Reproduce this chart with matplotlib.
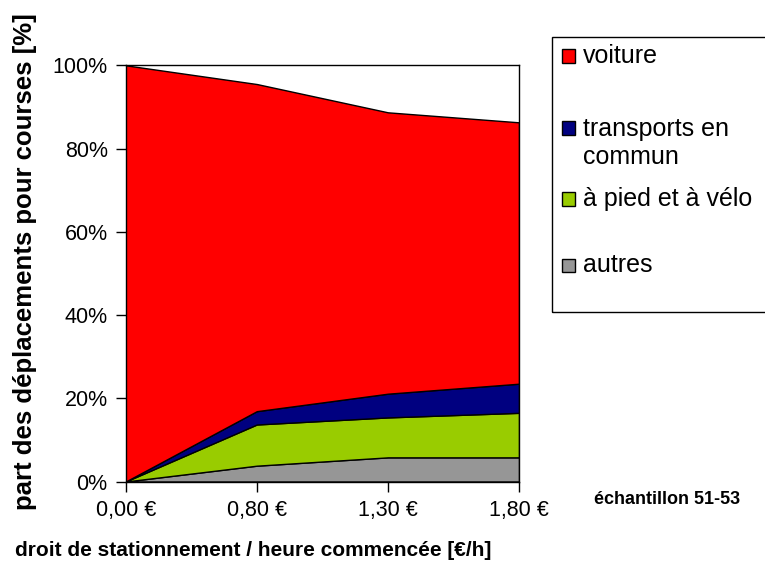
import matplotlib.pyplot as plt
from matplotlib.patches import Rectangle

plt.rcParams['font.family'] = ['Liberation Sans', 'DejaVu Sans']

# parking fee per started hour
categories = ['0,00 €', '0,80 €', '1,30 €', '1,80 €']
# share of shopping trips [%] per mode (stacked bottom to top)
autres = [0.0, 3.8, 5.8, 5.8]
pied_velo = [0.0, 9.9, 9.6, 10.7]
transports = [0.0, 3.2, 5.7, 7.0]
voiture = [100.0, 78.6, 67.6, 62.8]

series_labels = ['autres', 'à pied et à vélo', 'transports en\ncommun', 'voiture']
series_colors = ['#969696', '#99CC00', '#000080', '#FF0000']
yticks = [0, 20, 40, 60, 80, 100]

W, H = 765, 567
fig = plt.figure(figsize=(W / 100, H / 100), dpi=100)
ax = fig.add_axes([125.7 / W, 1 - 481.5 / H, (519 - 125.7) / W, (481.5 - 65.3) / H])

x = list(range(len(categories)))
ax.stackplot(x, autres, pied_velo, transports, voiture, colors=series_colors,
             edgecolor='black', linewidth=1)

ax.set_xlim(x[0], x[-1])
ax.set_ylim(0, 100)
ax.set_xticks(x)
ax.set_xticklabels(categories)
ax.set_yticks(yticks)
ax.set_yticklabels(['%d%%' % v for v in yticks])
ax.tick_params(axis='both', labelsize=15.5, direction='out', length=7, width=1, pad=6)
for sp in ax.spines.values():
    sp.set_linewidth(1)

ax.set_xlabel('droit de stationnement / heure commencée [€/h]', fontsize=15,
              fontweight='bold')
ax.xaxis.set_label_coords(15 / W, 1 - 550 / H, transform=fig.transFigure)
ax.xaxis.label.set_ha('left')
ax.xaxis.label.set_va('center')
ax.set_ylabel('part des déplacements pour courses [%]', fontsize=18.5, fontweight='bold')
ax.yaxis.set_label_coords(25 / W, 1 - 262 / H, transform=fig.transFigure)
ax.yaxis.label.set_va('center')

fig.text(667 / W, 1 - 500 / H, 'échantillon 51-53', fontsize=13, fontweight='bold',
         ha='center', va='center')

# legend box, cut off by the right edge of the figure
fig.add_artist(Rectangle((552 / W, 1 - 312 / H), 0.5, (312 - 37) / H,
                         transform=fig.transFigure, fill=False, lw=1, ec='black'))
legend_y = [56, 128, 199, 265]
legend_order = [3, 2, 1, 0]
for yy, i in zip(legend_y, legend_order):
    fig.add_artist(Rectangle((561.5 / W, 1 - (yy + 6.5) / H), 13 / W, 13 / H,
                             transform=fig.transFigure, fc=series_colors[i],
                             ec='black', lw=1))
    lbl = series_labels[i]
    if '\n' in lbl:
        fig.text(583 / W, 1 - (yy + 15) / H, lbl, fontsize=18, ha='left', va='center',
                 linespacing=1.25)
    else:
        fig.text(583 / W, 1 - yy / H, lbl, fontsize=18, ha='left', va='center')

fig.savefig('out.png', dpi=100)
